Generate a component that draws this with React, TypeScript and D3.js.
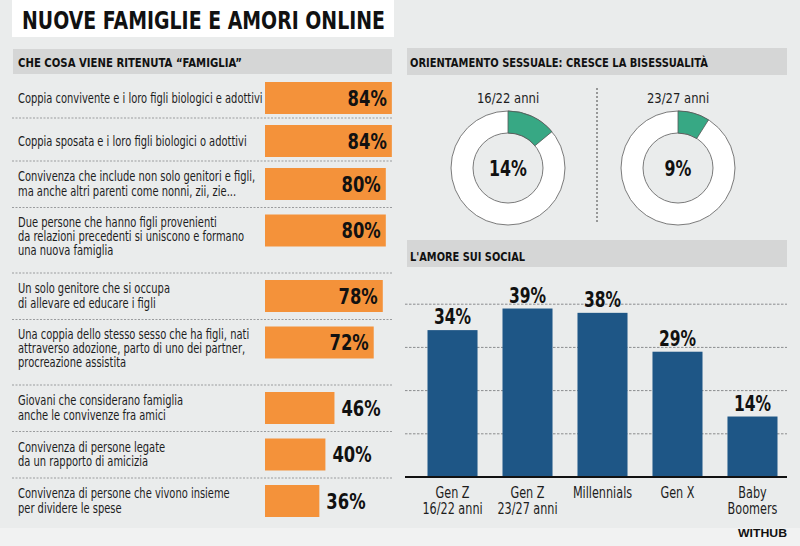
import React from "react";
import * as d3 from "d3";

const famLabels: string[] = [
  "Coppia convivente e i loro figli biologici e adottivi",
  "Coppia sposata e i loro figli biologici o adottivi",
  "Convivenza che include non solo genitori e figli,\nma anche altri parenti come nonni, zii, zie...",
  "Due persone che hanno figli provenienti\nda relazioni precedenti si uniscono e formano\nuna nuova famiglia",
  "Un solo genitore che si occupa\ndi allevare ed educare i figli",
  "Una coppia dello stesso sesso che ha figli, nati\nattraverso adozione, parto di uno dei partner,\nprocreazione assistita",
  "Giovani che considerano famiglia\nanche le convivenze fra amici",
  "Convivenza di persone legate\nda un rapporto di amicizia",
  "Convivenza di persone che vivono insieme\nper dividere le spese",
];
const famValues: number[] = [84, 84, 80, 80, 78, 72, 46, 40, 36];

const donutGroups: string[] = ["16/22 anni", "23/27 anni"];
const donutValues: number[] = [14, 9];

const socialCats: string[] = ["Gen Z\n16/22 anni", "Gen Z\n23/27 anni", "Millennials", "Gen X", "Baby\nBoomers"];
const socialValues: number[] = [34, 39, 38, 29, 14];
const socialTicks: number[] = [10, 20, 30, 40];

const TITLE = "NUOVE FAMIGLIE E AMORI ONLINE";
const H_LEFT = "CHE COSA VIENE RITENUTA \u201CFAMIGLIA\u201D";
const H_DONUT = "ORIENTAMENTO SESSUALE: CRESCE LA BISESSUALITÀ";
const H_SOCIAL = "L'AMORE SUI SOCIAL";
const SOURCE = "WITHUB";

const W = 800;
const H = 546;
const FONT = "'DejaVu Sans', sans-serif";
const BG = "#eaecec";
const HEAD = "#d5d6d6";
const ORANGE = "#f4923a";
const GREEN = "#37a884";
const BLUE = "#1e5686";
const TXT = "#1d1d1d";

type CTProps = {
  x: number;
  y: number;
  sx: number;
  size: number;
  bold?: boolean;
  anchor?: "start" | "middle" | "end";
  lineH?: number;
  text: string;
  fill?: string;
};

function CText({ x, y, sx, size, bold, anchor = "start", lineH = 14, text, fill = TXT }: CTProps) {
  const lines = text.split("\n");
  return (
    <text
      transform={`translate(${x},${y}) scale(${sx},1)`}
      fontFamily={FONT}
      fontWeight={bold ? 700 : 400}
      fontSize={size}
      textAnchor={anchor}
      fill={fill}
    >
      {lines.map((ln, j) => (
        <tspan key={j} x={0} y={j * lineH}>
          {ln}
        </tspan>
      ))}
    </text>
  );
}

export default function App() {
  // left panel layout
  const rowHeightFor = (n: number) => (n === 1 ? 43 : n === 2 ? 46.5 : 65.5);
  let acc = 75;
  const rows = famLabels.map((lab, i) => {
    const n = lab.split("\n").length;
    const top = acc;
    acc += rowHeightFor(n);
    return { label: lab, n, top, value: famValues[i] };
  });
  const x = d3.scaleLinear().domain([0, 100]).range([265, 265 + 151]);
  const barH = 32;

  // donuts
  const arcRing = d3.arc<any>().innerRadius(35).outerRadius(57);
  const donutCx = d3.scalePoint<string>().domain(donutGroups).range([508, 678]);
  const donutCy = 168;

  // social bars
  const xb = d3.scaleBand<string>().domain(socialCats).range([415, 790]).paddingInner(0.333).paddingOuter(0.1667);
  const yb = d3.scaleLinear().domain([0, 40]).range([477, 477 - 172.8]);

  return (
    <svg width={W} height={H} style={{ position: "absolute", left: 0, top: 0, display: "block" }}>
      <rect x={0} y={0} width={W} height={H} fill={BG} />
      <rect x={0} y={528} width={W} height={18} fill="#f1f2f2" />
      {/* title */}
      <rect x={12} y={0} width={382} height={37} fill="#ffffff" />
      <text x={22} y={29} fontFamily={FONT} fontWeight={700} fontSize={24} fill="#111" textLength={363} lengthAdjust="spacingAndGlyphs">
        {TITLE}
      </text>

      {/* left header */}
      <rect x={13} y={49} width={379} height={25} fill={HEAD} />
      <text x={18} y={67} fontFamily={FONT} fontWeight={700} fontSize={12} fill="#111" textLength={224} lengthAdjust="spacingAndGlyphs">
        {H_LEFT}
      </text>

      {rows.map((r, i) => {
        const cy = r.top + 23;
        const n = r.n;
        const firstBase = Math.max(cy - 16 + 12, cy - (n - 1) * 7.25 + 4.5);
        const inside = r.value >= 50;
        return (
          <g key={i}>
            {i > 0 && (
              <line x1={12} x2={392} y1={r.top} y2={r.top} stroke="#9a9c9e" strokeWidth={1} strokeDasharray="2,1.5" />
            )}
            <CText x={18} y={firstBase} sx={0.735} size={13.5} lineH={14.5} text={r.label} />
            <rect x={x(0)} y={cy - barH / 2} width={x(r.value) - x(0)} height={barH} fill={ORANGE} />
            <CText
              x={inside ? x(r.value) - 5 : x(r.value) + 7}
              y={cy + 7.5}
              sx={0.8}
              size={20.5}
              bold
              anchor={inside ? "end" : "start"}
              text={`${r.value}%`}
              fill="#111"
            />
          </g>
        );
      })}

      {/* donut header */}
      <rect x={407} y={48} width={380} height={27} fill={HEAD} />
      <text x={410} y={67} fontFamily={FONT} fontWeight={700} fontSize={12} fill="#111" textLength={298} lengthAdjust="spacingAndGlyphs">
        {H_DONUT}
      </text>
      <line x1={597} x2={597} y1={88} y2={224} stroke="#444" strokeWidth={1} strokeDasharray="2,2" />
      {donutGroups.map((g, i) => {
        const cx = donutCx(g) as number;
        const v = donutValues[i];
        return (
          <g key={g} transform={`translate(${cx},${donutCy})`}>
            <CText x={0} y={-65} sx={0.83} size={14} anchor="middle" text={g} />
            <path d={arcRing({ startAngle: 0, endAngle: Math.PI * 2 }) as string} fill="#ffffff" stroke="#7a7a7a" strokeWidth={1} />
            <path d={arcRing({ startAngle: 0, endAngle: (Math.PI * 2 * v) / 100 }) as string} fill={GREEN} stroke="#555" strokeWidth={0.8} />
            <CText x={0} y={8} sx={0.72} size={22} bold anchor="middle" text={`${v}%`} fill="#111" />
          </g>
        );
      })}

      {/* social header */}
      <rect x={407} y={240} width={380} height={27} fill={HEAD} />
      <text x={410} y={261} fontFamily={FONT} fontWeight={700} fontSize={12} fill="#111" textLength={115} lengthAdjust="spacingAndGlyphs">
        {H_SOCIAL}
      </text>
      {socialTicks.map((t) => (
        <line key={t} x1={405} x2={787} y1={yb(t)} y2={yb(t)} stroke="#8a8c8e" strokeWidth={1} strokeDasharray="2.5,1.5" />
      ))}
      {socialCats.map((c, i) => {
        const bx = xb(c) as number;
        const v = socialValues[i];
        const cx = bx + xb.bandwidth() / 2;
        return (
          <g key={c}>
            <rect x={bx} y={yb(v)} width={xb.bandwidth()} height={yb(0) - yb(v)} fill={BLUE} />
            <CText x={cx} y={yb(v) - 6} sx={0.74} size={21} bold anchor="middle" text={`${v}%`} fill="#111" />
            <CText x={cx} y={498} sx={0.75} size={15} anchor="middle" lineH={16} text={c} />
          </g>
        );
      })}
      <line x1={405} x2={787} y1={yb(0)} y2={yb(0)} stroke="#111" strokeWidth={2} />
      <text x={787} y={537} textAnchor="end" fontFamily="'Liberation Sans', Arial, sans-serif" fontWeight={900} fontSize={11} fill="#111" textLength={49} lengthAdjust="spacingAndGlyphs">
        {SOURCE}
      </text>
    </svg>
  );
}
